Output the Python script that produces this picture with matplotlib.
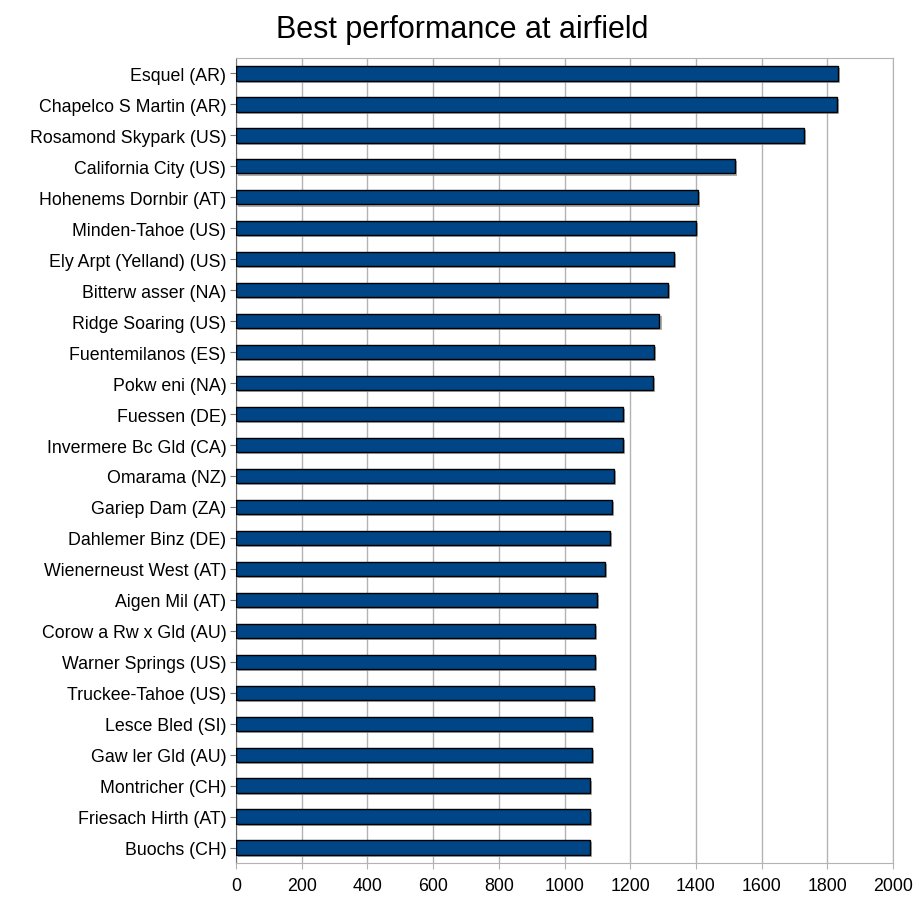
import matplotlib
matplotlib.use("Agg")
import matplotlib.pyplot as plt
import matplotlib.patheffects as pe

plt.rcParams['font.family'] = ['Liberation Sans', 'DejaVu Sans']

airfields = [
    "Esquel (AR)", "Chapelco S Martin (AR)", "Rosamond Skypark (US)", "California City (US)",
    "Hohenems Dornbir (AT)", "Minden-Tahoe (US)", "Ely Arpt (Yelland) (US)", "Bitterw asser (NA)",
    "Ridge Soaring (US)", "Fuentemilanos (ES)", "Pokw eni (NA)", "Fuessen (DE)",
    "Invermere Bc Gld (CA)", "Omarama (NZ)", "Gariep Dam (ZA)", "Dahlemer Binz (DE)",
    "Wienerneust West (AT)", "Aigen Mil (AT)", "Corow a Rw x Gld (AU)", "Warner Springs (US)",
    "Truckee-Tahoe (US)", "Lesce Bled (SI)", "Gaw ler Gld (AU)", "Montricher (CH)",
    "Friesach Hirth (AT)", "Buochs (CH)",
]
performance = [
    1833, 1829, 1728, 1519,
    1405, 1399, 1333, 1316,
    1289, 1272, 1268, 1178,
    1178, 1150, 1145, 1139,
    1122, 1100, 1094, 1094,
    1089, 1083, 1083, 1078,
    1078, 1078,
]
x_ticks = list(range(0, 2001, 200))

fig = plt.figure(figsize=(9.19, 9.04), dpi=100)
ax = fig.add_axes([236/919, 1 - 864/904, (893 - 236)/919, (864 - 59)/904])

ypos = list(range(len(airfields)))
bars = ax.barh(ypos, performance, height=0.46, color="#004586", edgecolor="#000000",
               linewidth=1.0, zorder=3)
for b in bars:
    b.set_path_effects([pe.SimplePatchShadow(offset=(1.5, -1.5), shadow_rgbFace="#999999", alpha=0.8),
                        pe.Normal()])

ax.set_ylim(len(airfields) - 0.5, -0.5)
ax.set_yticks(ypos)
ax.set_yticklabels(airfields, fontsize=12.8)
ax.set_xlim(0, 2000)
ax.set_xticks(x_ticks)
ax.set_xticklabels([str(t) for t in x_ticks], fontsize=12.8)
ax.xaxis.grid(True, color="#b3b3b3", linewidth=1.0, zorder=0)
ax.set_axisbelow(True)

for s in ["top", "right", "bottom"]:
    ax.spines[s].set_color("#b3b3b3")
ax.spines["left"].set_color("#777777")
ax.tick_params(axis="y", length=4, color="#777777", pad=3)
ax.tick_params(axis="x", length=4, color="#b3b3b3", pad=6)

fig.text(462/919, 1 - 30/904, "Best performance at airfield", ha="center", va="center", fontsize=22)

fig.savefig("out.png", dpi=100)
